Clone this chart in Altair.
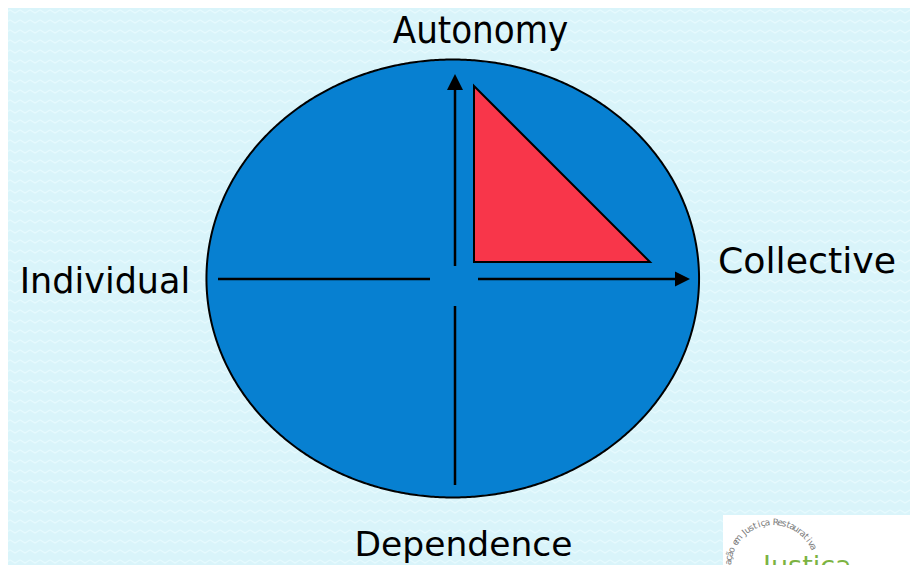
import altair as alt
import pandas as pd

# ---- content ----
axis_labels = ["Autonomy", "Individual", "Collective", "Dependence"]
logo_arc_text = "ação em Justiça Restaurativa"
logo_title = "Justiça"

# ---- layout (pixel coordinates of the 918x565 page) ----
W, H = 902, 557
X0, Y0 = 8, 8
xs = alt.Scale(domain=[X0, X0 + W], nice=False, zero=False)
ys = alt.Scale(domain=[Y0, Y0 + H], nice=False, zero=False, reverse=True)

BG = "#d9f4fa"
ZIG = "#e6f9fd"
BLUE = "#0780d1"
RED = "#f8364a"

def X(f="x"):
    return alt.X(f"{f}:Q", scale=xs, axis=None)

def Y(f="y"):
    return alt.Y(f"{f}:Q", scale=ys, axis=None)

# background zig-zag texture
per_row = 190
rows = 58
texture = alt.Chart(alt.sequence(0, per_row * rows, 1, as_="i")).transform_calculate(
    row="floor(datum.i / %d)" % per_row,
    col="datum.i %% %d" % per_row,
    x="datum.col * 5",
    y="datum.row * 10 + (datum.col % 2) * 3",
).mark_line(color=ZIG, strokeWidth=1.2, opacity=1).encode(
    x=X(), y=Y(), detail="row:N"
)

# ellipse (center / radii)
ecx, ecy, erx, ery = 452.75, 278.5, 246.3, 219.0
ellipse = alt.Chart(alt.sequence(0, 180.5, 0.5, as_="t")).transform_calculate(
    x=f"{ecx} - {erx} * cos(datum.t * PI / 180)",
    y=f"{ecy} - {ery} * sin(datum.t * PI / 180)",
    y2=f"{ecy} + {ery} * sin(datum.t * PI / 180)",
).mark_area(fill=BLUE, stroke="black", strokeWidth=2, opacity=1, fillOpacity=1).encode(
    x=X(), y=Y(), y2="y2:Q"
)

# red triangle
tri_df = pd.DataFrame({"x": [474, 650], "y": [86, 262], "y2": [262, 262]})
triangle = alt.Chart(tri_df).mark_area(
    fill=RED, stroke="black", strokeWidth=2, opacity=1, fillOpacity=1
).encode(x=X(), y=Y(), y2="y2:Q")

# axis lines
seg_df = pd.DataFrame({
    "x": [455, 455, 218, 478],
    "x2": [455, 455, 430, 677],
    "y": [89, 306, 279, 279],
    "y2": [266, 485, 279, 279],
})
segments = alt.Chart(seg_df).mark_rule(color="black", strokeWidth=2.5).encode(
    x=X(), x2="x2:Q", y=Y(), y2="y2:Q"
)

# arrow heads
up_df = pd.DataFrame({"x": [447, 455, 463], "y": [90, 74, 90], "y2": [90, 90, 90]})
up_head = alt.Chart(up_df).mark_area(fill="black", opacity=1, fillOpacity=1).encode(
    x=X(), y=Y(), y2="y2:Q"
)
right_df = pd.DataFrame({"x": [675, 690], "y": [271.5, 279], "y2": [286.5, 279]})
right_head = alt.Chart(right_df).mark_area(fill="black", opacity=1, fillOpacity=1).encode(
    x=X(), y=Y(), y2="y2:Q"
)

# labels
lab_df = pd.DataFrame({
    "label": axis_labels[1:],
    "x": [105, 807, 463.5],
    "y": [293, 273, 556],
    "fs": [35, 36.3, 34.5],
})
labels = alt.Chart(lab_df).mark_text(
    font="DejaVu Sans", color="black", align="center", baseline="alphabetic"
).encode(x=X(), y=Y(), text="label:N", size=alt.Size("fs:Q", scale=None, legend=None))
top_label = alt.Chart(pd.DataFrame({"label": axis_labels[:1], "x": [480.5], "y": [43]})).mark_text(
    font="DejaVu Sans Condensed", fontSize=38, color="black", align="center", baseline="alphabetic"
).encode(x=X(), y=Y(), text="label:N")

# logo (bottom right)
logo_box = alt.Chart(pd.DataFrame({"x": [723], "x2": [930], "y": [515], "y2": [580]})).mark_rect(
    color="white", opacity=1
).encode(x=X(), x2="x2:Q", y=Y(), y2="y2:Q")

acx, acy, ar, a0, a1 = 773, 567, 45, -84, 64
n = len(logo_arc_text)
step = (a1 - a0) / (n - 1)
arc_df = pd.DataFrame({"ch": list(logo_arc_text), "i": list(range(n))})
logo_arc = alt.Chart(arc_df).transform_calculate(
    th=f"{a0} + datum.i * {step}",
    x=f"{acx} + {ar} * sin(datum.th * PI / 180)",
    y=f"{acy} - {ar} * cos(datum.th * PI / 180)",
    ang="(datum.th + 360) % 360",
).mark_text(font="DejaVu Sans", fontSize=9, color="#7a7a7a", align="center", baseline="middle").encode(
    x=X(), y=Y(), text="ch:N", angle=alt.Angle("ang:Q", scale=None)
)
logo_word = alt.Chart(pd.DataFrame({"label": [logo_title], "x": [763], "y": [575]})).mark_text(
    font="DejaVu Sans", fontSize=27, color="#7cb342", align="left", baseline="alphabetic"
).encode(x=X(), y=Y(), text="label:N")

chart = alt.layer(
    texture, ellipse, triangle, segments, up_head, right_head, labels, top_label,
    logo_box, logo_arc, logo_word
).properties(
    width=W, height=H, background=BG, padding=0,
    autosize=alt.AutoSizeParams(type="none")
).configure_view(strokeWidth=0)

chart.save("out.html", embed_options={"renderer": "svg", "actions": False})
